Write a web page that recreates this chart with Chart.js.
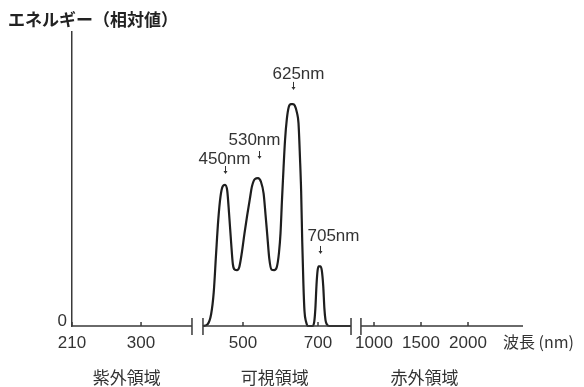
<!DOCTYPE html>
<html>
<head>
<meta charset="utf-8">
<script src="https://cdn.jsdelivr.net/npm/chart.js@4.4.1/dist/chart.umd.min.js"></script>
<style>
  html, body { margin: 0; padding: 0; background: #ffffff; }
</style>
</head>
<body>
<canvas id="grafico" width="584" height="387"></canvas>
<script>
// espectro: longitud de onda (nm) y energia relativa
var longitudOnda = [393, 405, 415, 422, 428, 434, 440, 446, 452, 458, 463, 468, 473, 478, 484,
  490, 497, 504, 511, 518, 524, 532, 540, 548, 555, 560, 565, 570, 576, 583,
  590, 596, 600, 604, 608, 612, 617, 622, 628, 633, 638, 644, 648, 652, 655,
  658, 661, 664, 668, 673, 685, 690, 693, 696, 699, 702, 706, 710, 714, 717,
  720, 724, 730, 788];
var energia = [0, 0.5, 4, 11.5, 24, 36, 44, 47.5, 48, 46, 38, 29, 21, 19.2, 19,
  20, 25, 31.5, 37.5, 43, 47.5, 50, 50.3, 49, 45, 38, 30.5, 23, 19.2, 19,
  20, 25, 31.5, 43, 53.5, 63, 70.5, 74.5, 75.5, 75.5, 75, 72.5, 69, 57, 46,
  28.5, 14.5, 5, 1.5, 0, 0, 1.5, 6, 14, 19, 20.3, 20.3, 19, 13.5, 6,
  2, 0.5, 0, 0];

// tres tramos del eje x (ultravioleta, visible, infrarrojo)
var tramoMin = [210, 378.7, 808.5];
var tramoMax = [373.6, 801.3, 2585];
var tramoDesde = [210, 393.3, 861];
var tramoHasta = [366.4, 788, 2585];
var tramoPeso = [125.5, 158.5, 167];
var marcasX = [[210, 300], [500, 700], [1000, 1500, 2000]];
var regiones = ['紫外領域', '可視領域', '赤外領域'];

// picos anotados
var picoNm = [452, 543, 633, 705];
var picoTexto = ['450nm', '530nm', '625nm', '705nm'];
var picoFlecha = [51.7, 56.8, 80.3, 24.5];

var fuenteNum = '"Liberation Sans Narrow", "Liberation Sans", sans-serif';
var fuenteJp = '"Noto Sans CJK JP", sans-serif';

var puntos = longitudOnda.map(function(x, i) { return {x: x, y: energia[i]}; });

function ejeX(i) {
  return {
    type: 'linear',
    position: 'bottom',
    stack: 'nm',
    stackWeight: tramoPeso[i],
    min: tramoMin[i],
    max: tramoMax[i],
    grid: { display: false, drawTicks: false },
    border: { display: false },
    afterBuildTicks: function(s) { s.ticks = marcasX[i].map(function(v) { return {value: v}; }); },
    afterFit: function(s) { s.height = 61; },
    ticks: {
      autoSkip: false,
      maxRotation: 0,
      padding: 7,
      color: '#333',
      font: { family: fuenteNum, size: 17 },
      callback: function(v) { return String(v); }
    }
  };
}

var dibujoExtra = {
  id: 'dibujoExtra',
  afterDraw: function(chart) {
    var ctx = chart.ctx;
    var ey = chart.scales.y;
    var base = ey.getPixelForValue(0);
    var ids = ['x1', 'x2', 'x3'];
    ctx.save();
    ctx.strokeStyle = '#3a3a3a';
    ctx.lineWidth = 1.5;
    ids.forEach(function(id, i) {
      var s = chart.scales[id];
      var a = s.getPixelForValue(tramoDesde[i]);
      var b = s.getPixelForValue(tramoHasta[i]);
      ctx.beginPath();
      ctx.moveTo(a, base);
      ctx.lineTo(b, base);
      // marcas hacia arriba
      marcasX[i].forEach(function(v) {
        var p = s.getPixelForValue(v);
        ctx.moveTo(p, base);
        ctx.lineTo(p, base - 4);
      });
      // cortes del eje
      if (i > 0) { ctx.moveTo(a, base - 8); ctx.lineTo(a, base + 9); }
      if (i < 2) { ctx.moveTo(b, base - 8); ctx.lineTo(b, base + 9); }
      ctx.stroke();
    });

    // nombres de las regiones
    var ajusteRegion = [-8, -2, -15];
    ctx.fillStyle = '#333';
    ctx.font = '17px ' + fuenteJp;
    ctx.textAlign = 'center';
    ctx.textBaseline = 'middle';
    ids.forEach(function(id, i) {
      var s = chart.scales[id];
      ctx.fillText(regiones[i], (s.left + s.right) / 2 + ajusteRegion[i], 378);
    });

    // titulo del eje x
    ctx.textAlign = 'left';
    ctx.font = '16px ' + fuenteJp;
    ctx.fillText('波長 (nm)', chart.scales.x3.right - 20, 342);

    // titulo del eje y
    ctx.font = 'bold 17px ' + fuenteJp;
    ctx.fillStyle = '#222';
    ctx.fillText('エネルギー（相対値）', 8, 20);

    // anotaciones de los picos
    var dx = [-27, -31, -21, -13];
    var hueco = [2, 6, 3, 5];
    var x2 = chart.scales.x2;
    ctx.strokeStyle = '#333';
    ctx.fillStyle = '#333';
    ctx.lineWidth = 1;
    ctx.textBaseline = 'alphabetic';
    ctx.font = '17px ' + fuenteNum;
    picoNm.forEach(function(nm, i) {
      var px = Math.round(x2.getPixelForValue(nm)) + 0.5;
      var punta = ey.getPixelForValue(picoFlecha[i]);
      ctx.beginPath();
      ctx.moveTo(px, punta - 8);
      ctx.lineTo(px, punta - 2);
      ctx.stroke();
      ctx.beginPath();
      ctx.moveTo(px - 2, punta - 3);
      ctx.lineTo(px + 2, punta - 3);
      ctx.lineTo(px, punta);
      ctx.closePath();
      ctx.fill();
      ctx.fillText(picoTexto[i], px + dx[i], punta - 8 - hueco[i]);
    });
    ctx.restore();
  }
};

var escalas = {
  x1: ejeX(0),
  x2: ejeX(1),
  x3: ejeX(2),
  y: {
    type: 'linear',
    min: 0,
    max: 100,
    grid: { display: false, drawTicks: false },
    border: { display: true, color: '#3a3a3a', width: 1.5 },
    afterBuildTicks: function(s) { s.ticks = [{value: 0}]; },
    afterFit: function(s) { s.width = 72; },
    ticks: {
      padding: 5,
      labelOffset: -5,
      color: '#333',
      font: { family: fuenteNum, size: 17 }
    }
  }
};

new Chart(document.getElementById('grafico').getContext('2d'), {
  type: 'line',
  data: {
    datasets: [{
      data: puntos,
      xAxisID: 'x2',
      yAxisID: 'y',
      borderColor: '#1e1e1e',
      borderWidth: 2.2,
      pointRadius: 0,
      fill: false,
      cubicInterpolationMode: 'monotone',
      clip: false
    }]
  },
  options: {
    responsive: false,
    animation: false,
    layout: { padding: { left: 0, top: 32, right: 61, bottom: 0 } },
    plugins: { legend: { display: false }, tooltip: { enabled: false } },
    scales: escalas
  },
  plugins: [dibujoExtra]
});
</script>
</body>
</html>
